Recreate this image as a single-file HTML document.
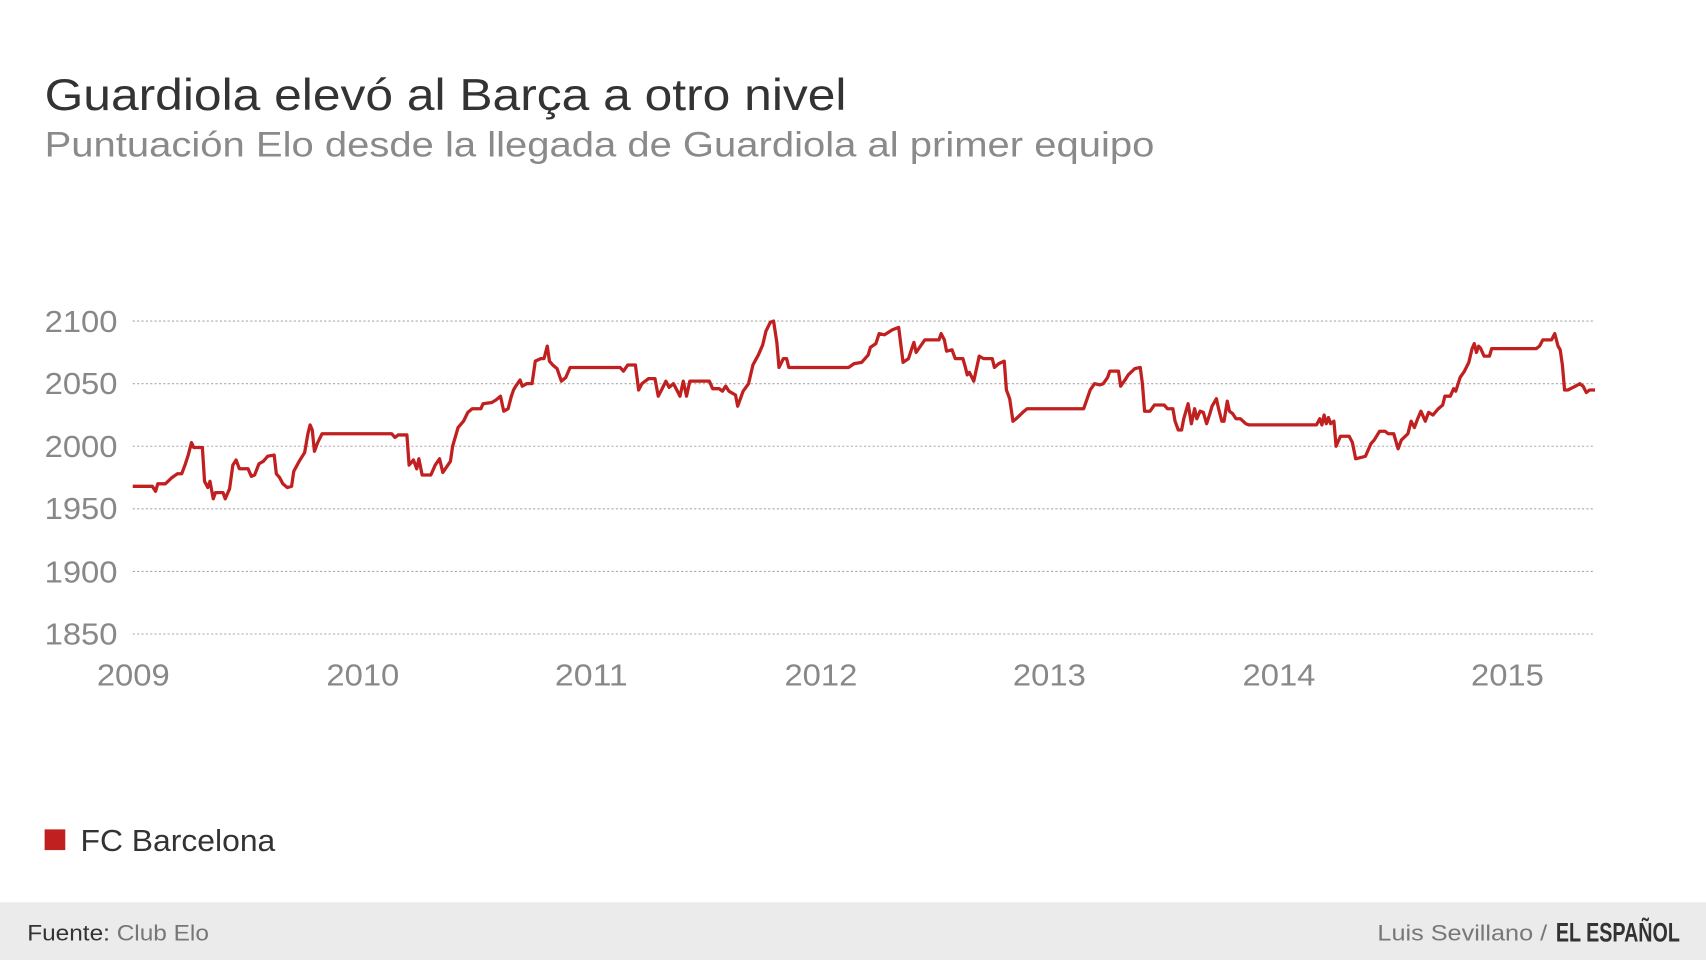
<!DOCTYPE html>
<html><head><meta charset="utf-8"><style>
html,body{margin:0;padding:0;background:#fff;}
svg{display:block;}
text{font-family:"Liberation Sans",sans-serif;}
</style></head><body>
<svg width="1706" height="960" viewBox="0 0 1568 882" preserveAspectRatio="none" xmlns="http://www.w3.org/2000/svg">
<rect width="1568" height="882" fill="#fff"/>
<text x="41" y="101" font-size="41" fill="#333" textLength="737" lengthAdjust="spacingAndGlyphs">Guardiola elevó al Barça a otro nivel</text>
<text x="41" y="144" font-size="32" fill="#8a8a8a" textLength="1020" lengthAdjust="spacingAndGlyphs">Puntuación Elo desde la llegada de Guardiola al primer equipo</text>
<g stroke="#aaa" stroke-width="1" stroke-dasharray="2,2">
<line x1="122" x2="1466" y1="295" y2="295"/>
<line x1="122" x2="1466" y1="352.5" y2="352.5"/>
<line x1="122" x2="1466" y1="410" y2="410"/>
<line x1="122" x2="1466" y1="467.5" y2="467.5"/>
<line x1="122" x2="1466" y1="525" y2="525"/>
<line x1="122" x2="1466" y1="582.5" y2="582.5"/>
</g>
<g font-size="28" fill="#888" text-anchor="end">
<text x="108" y="305" textLength="67" lengthAdjust="spacingAndGlyphs">2100</text>
<text x="108" y="362" textLength="67" lengthAdjust="spacingAndGlyphs">2050</text>
<text x="108" y="420" textLength="67" lengthAdjust="spacingAndGlyphs">2000</text>
<text x="108" y="477" textLength="67" lengthAdjust="spacingAndGlyphs">1950</text>
<text x="108" y="535" textLength="67" lengthAdjust="spacingAndGlyphs">1900</text>
<text x="108" y="592" textLength="67" lengthAdjust="spacingAndGlyphs">1850</text>
</g>
<g font-size="28" fill="#888">
<text x="89" y="630" textLength="67" lengthAdjust="spacingAndGlyphs">2009</text>
<text x="300" y="630" textLength="67" lengthAdjust="spacingAndGlyphs">2010</text>
<text x="510" y="630" textLength="67" lengthAdjust="spacingAndGlyphs">2011</text>
<text x="721" y="630" textLength="67" lengthAdjust="spacingAndGlyphs">2012</text>
<text x="931" y="630" textLength="67" lengthAdjust="spacingAndGlyphs">2013</text>
<text x="1142" y="630" textLength="67" lengthAdjust="spacingAndGlyphs">2014</text>
<text x="1352" y="630" textLength="67" lengthAdjust="spacingAndGlyphs">2015</text>
</g>
<polyline id="ln" fill="none" stroke="#c0201f" stroke-width="3" stroke-linejoin="round" points=""/>
<rect x="41" y="762" width="19" height="19" fill="#c0201f"/>
<text x="74" y="782" font-size="28" fill="#333" textLength="179" lengthAdjust="spacingAndGlyphs">FC Barcelona</text>
<rect x="0" y="829" width="1568" height="53" fill="#ebebeb"/>
<text x="25" y="864" font-size="20" fill="#333" textLength="167" lengthAdjust="spacingAndGlyphs">Fuente: <tspan fill="#777">Club Elo</tspan></text>
<text x="1266" y="864" font-size="20" fill="#777" textLength="156" lengthAdjust="spacingAndGlyphs">Luis Sevillano /</text>
<text x="1430" y="865" font-size="25" fill="#333" font-weight="bold" font-family="Liberation Serif,serif" textLength="114" lengthAdjust="spacingAndGlyphs">EL ESPAÑOL</text>
</svg>
<script>
var d=[122,1968,140,1968,143,1964,145,1970,152,1970,158,1975,163,1978,167,1978,170,1985,173,1993,176,2003,178,1999,186,1999,188,1972,191,1967,193,1972,196,1958,198,1963,205,1963,207,1958,211,1966,214,1985,217,1989,220,1982,228,1982,231,1976,234,1977,238,1986,242,1988,246,1992,252,1993,254,1978,257,1975,260,1970,264,1967,268,1968,270,1980,275,1988,280,1995,283,2010,285,2017,287,2013,289,1996,292,2003,296,2010,300,2010,360,2010,363,2007,366,2009,374,2009,376,1985,380,1989,383,1982,385,1990,388,1977,396,1977,400,1985,404,1990,407,1979,414,1988,416,2000,421,2015,426,2020,430,2027,434,2030,442,2030,444,2034,452,2035,456,2037,460,2040,463,2028,467,2030,470,2040,472,2045,474,2048,478,2053,480,2048,484,2050,489,2050,492,2068,497,2070,500,2070,503,2080,505,2068,508,2065,512,2062,516,2052,520,2055,524,2063,570,2063,573,2060,577,2065,584,2065,587,2045,590,2050,593,2052,596,2054,602,2054,605,2040,608,2045,612,2052,615,2047,619,2050,625,2040,628,2052,631,2040,634,2052,652,2052,655,2046,661,2046,664,2044,667,2048,670,2044,676,2041,678,2032,683,2044,688,2050,692,2065,697,2073,701,2081,704,2092,708,2099,711,2100,714,2083,716,2063,720,2070,723,2070,725,2063,780,2063,785,2066,792,2067,798,2073,800,2079,805,2082,808,2090,813,2089,820,2093,826,2095,830,2067,835,2070,838,2078,840,2083,842,2075,846,2080,850,2085,863,2085,865,2090,868,2085,870,2076,875,2077,878,2070,885,2070,887,2064,889,2057,891,2059,895,2052,900,2072,904,2070,912,2070,914,2063,918,2066,923,2068,925,2045,928,2038,931,2020,934,2022,940,2027,944,2030,996,2030,998,2035,1002,2045,1006,2050,1011,2049,1014,2050,1018,2055,1020,2060,1028,2060,1030,2048,1034,2053,1037,2057,1043,2062,1048,2063,1050,2050,1052,2028,1057,2028,1061,2033,1070,2033,1073,2030,1078,2030,1080,2020,1083,2013,1086,2013,1088,2022,1092,2034,1095,2018,1098,2030,1100,2022,1103,2028,1106,2027,1109,2018,1112,2026,1114,2032,1118,2038,1120,2030,1123,2020,1125,2020,1128,2036,1130,2028,1133,2026,1136,2022,1140,2022,1145,2018,1148,2017,1210,2017,1213,2022,1215,2017,1217,2025,1219,2018,1221,2023,1223,2018,1226,2020,1228,2000,1232,2008,1240,2008,1243,2003,1246,1990,1255,1992,1260,2002,1263,2005,1268,2012,1273,2012,1276,2010,1281,2010,1285,1998,1288,2005,1294,2010,1297,2020,1300,2015,1303,2022,1306,2028,1310,2020,1313,2027,1317,2025,1322,2030,1326,2033,1328,2040,1333,2040,1336,2046,1338,2044,1342,2055,1346,2060,1350,2067,1353,2078,1355,2082,1357,2075,1359,2080,1361,2078,1364,2072,1369,2072,1371,2078,1412,2078,1415,2080,1418,2085,1426,2085,1429,2090,1432,2080,1434,2077,1436,2065,1438,2045,1441,2045,1448,2048,1452,2050,1455,2048,1458,2043,1461,2045,1466,2045];
var p=[];for(var i=0;i<d.length;i+=2){p.push(d[i]+","+(410-(d[i+1]-2000)*1.15).toFixed(1));}
document.getElementById("ln").setAttribute("points",p.join(" "));
</script>
</body></html>
